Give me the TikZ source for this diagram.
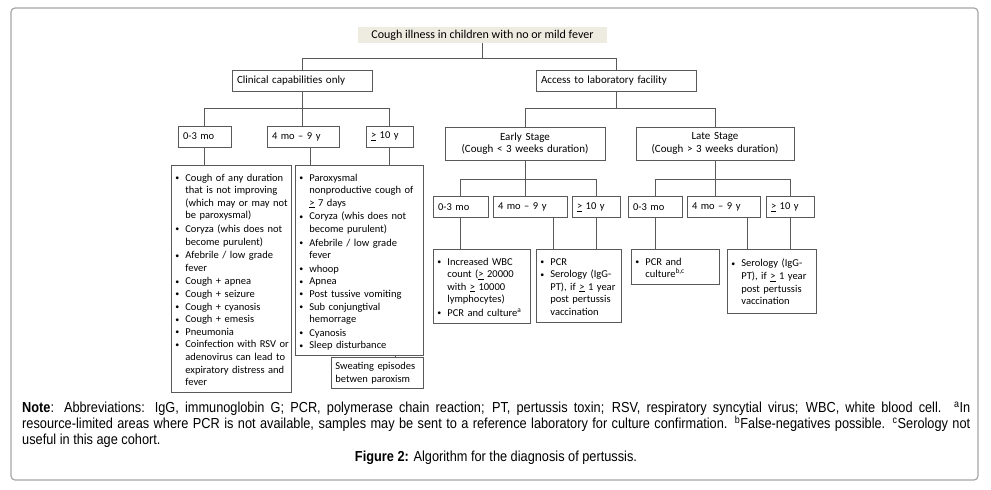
\documentclass[tikz,border=0pt]{standalone}
\usepackage{fontspec}
\setmainfont{Carlito}
\newfontfamily\notefont[FakeStretch=0.88]{Liberation Sans}

\definecolor{titlefill}{RGB}{238,236,225}
\definecolor{linegray}{RGB}{89,89,89}
\definecolor{framegray}{RGB}{165,165,165}

% one bullet item, lines broken by hand
\newcommand{\bul}[1]{\par\noindent\makebox[10pt][l]{\raisebox{0.6pt}{\scalebox{0.75}{\textbullet}}}\begin{tabular}[t]{@{}l@{}}#1\end{tabular}}
% underlined > used as "greater or equal"
\newcommand{\uge}{\underline{>}}

\begin{document}
\begin{tikzpicture}[x=1pt, y=-1pt,
	box/.style={draw=linegray, line width=0.8pt, inner sep=0pt, font=\fontsize{10.5}{12.6}\selectfont},
	agebox/.style={box, minimum height=21pt, inner xsep=5pt, align=left},
	stagebox/.style={box, minimum height=33pt, align=center},
	listbox/.style={box, anchor=north west, inner xsep=4pt, inner ysep=3pt, align=left},
	link/.style={draw=linegray, line width=0.8pt}]

	\useasboundingbox (0,0) rectangle (991,490);
	\draw[framegray, line width=1.2pt, rounded corners=4pt] (11,8) rectangle (978,480);

	\node[fill=titlefill, minimum width=249pt, minimum height=16pt, inner sep=0pt, font=\fontsize{12}{12.6}\selectfont](cough) at (482.5,35){Cough illness in children with no or mild fever};

	\node[agebox, text width=130pt, font=\fontsize{11}{12.6}\selectfont](clinical) at (302,81){Clinical capabilities only};
	\node[agebox, text width=150pt, font=\fontsize{11}{12.6}\selectfont](lab) at (616,81){Access to laboratory facility};

	\node[agebox, text width=43pt](cinfant) at (204.5,136.5){0-3 mo};
	\node[agebox, text width=62pt](cchild) at (303,136.5){4 mo -- 9 y};
	\node[agebox, text width=37pt](cadult) at (389.5,136.5){\uge{} 10 y};

	\node[stagebox, text width=160pt, font=\fontsize{11}{12.6}\selectfont](early) at (525,143.5){Early Stage\\(Cough < 3 weeks duration)};
	\node[stagebox, text width=158pt, font=\fontsize{11}{12.6}\selectfont](late) at (715,143.5){Late Stage\\(Cough > 3 weeks duration)};

	\node[agebox, text width=45pt](einfant) at (460.5,207){0-3 mo};
	\node[agebox, text width=64pt](echild) at (530,207){4 mo -- 9 y};
	\node[agebox, text width=38pt](eadult) at (596,207){\uge{} 10 y};
	\node[agebox, text width=44pt](linfant) at (655,207){0-3 mo};
	\node[agebox, text width=63pt](lchild) at (723.5,207){4 mo -- 9 y};
	\node[agebox, text width=38pt](ladult) at (790,207){\uge{} 10 y};

	\node[listbox, text width=112pt, minimum height=222pt](csymp1) at (171,165){%
		\bul{Cough of any duration\\that is not improving\\(which may or may not\\be paroxysmal)}
		\bul{Coryza (whis does not\\become purulent)}
		\bul{Afebrile / low grade\\fever}
		\bul{Cough + apnea}
		\bul{Cough + seizure}
		\bul{Cough + cyanosis}
		\bul{Cough + emesis}
		\bul{Pneumonia}
		\bul{Coinfection with RSV or\\adenovirus can lead to\\expiratory distress and\\fever}};
	\node[listbox, text width=120pt, minimum height=185pt](csymp2) at (295,165){%
		\bul{Paroxysmal\\nonproductive cough of\\\uge{} 7 days}
		\bul{Coryza (whis does not\\become purulent)}
		\bul{Afebrile / low grade\\fever}
		\bul{whoop}
		\bul{Apnea}
		\bul{Post tussive vomiting}
		\bul{Sub conjungtival\\hemorrage}
		\bul{Cyanosis}
		\bul{Sleep disturbance}};
	\node[listbox, text width=84pt, minimum height=31pt](sweat) at (331,357){Sweating episodes\\betwen paroxism};

	\node[listbox, text width=89pt, minimum height=70pt](etest1) at (433,249){%
		\bul{Increased WBC\\count (\uge{} 20000\\with \uge{} 10000\\lymphocytes)}
		\bul{PCR and culture\textsuperscript{a}}};
	\node[listbox, text width=77pt, minimum height=70pt](etest2) at (536,249){%
		\bul{PCR}
		\bul{Serology (IgG-\\PT), if \uge{} 1 year\\post pertussis\\vaccination}};
	\node[listbox, text width=80pt, minimum height=30pt](ltest1) at (631,249){%
		\bul{PCR and\\culture\textsuperscript{b,c}}};
	\node[listbox, text width=81pt, minimum height=64pt](ltest2) at (727,249){%
		\bul{Serology (IgG-\\PT), if \uge{} 1 year\\post pertussis\\vaccination}};

	\draw[link] (cough.south) -- ++(0,15) -| (clinical.north);
	\draw[link] (cough.south) -- ++(0,15) -| (lab.north);

	\draw[link] (clinical.south) -- ++(0,16) -| (cinfant.north);
	\draw[link] (clinical.south) -- ++(0,16) -| (cadult.north);
	\draw[link] (clinical.south) -- (clinical.south |- cchild.north);
	\draw[link] (lab.south) -- ++(0,16) -| (early.north);
	\draw[link] (lab.south) -- ++(0,16) -| (late.north);

	\draw[link] (early.south) -- ++(0,19) -| (einfant.north);
	\draw[link] (early.south) -- ++(0,19) -| (eadult.north);
	\draw[link] (early.south) -- (early.south |- echild.north);
	\draw[link] (late.south) -- ++(0,19) -| (linfant.north);
	\draw[link] (late.south) -- ++(0,19) -| (ladult.north);
	\draw[link] (late.south) -- (late.south |- lchild.north);

	\draw[link] (cinfant.south) -- (cinfant.south |- csymp1.north);
	\draw[link] ([xshift=7pt]cchild.south) -- ([xshift=7pt]cchild.south |- csymp2.north);
	\draw[link] (cadult.south) -- (cadult.south |- csymp2.north);
	\draw[link] ([xshift=18pt]sweat.north) -- ([xshift=18pt]sweat.north |- csymp2.south);

	\draw[link] (einfant.south) -- (einfant.south |- etest1.north);
	\draw[link] ([xshift=23pt]echild.south) -- ([xshift=23pt]echild.south |- etest2.north);
	\draw[link] (eadult.south) -- (eadult.south |- etest2.north);
	\draw[link] (linfant.south) -- (linfant.south |- ltest1.north);
	\draw[link] ([xshift=23.5pt]lchild.south) -- ([xshift=23.5pt]lchild.south |- ltest2.north);
	\draw[link] (ladult.south) -- (ladult.south |- ltest2.north);

	\node[anchor=north west, inner sep=0pt, text width=948pt, align=justify, font=\notefont\fontsize{14.5}{16}\selectfont](note) at (22,402){%
		\hyphenpenalty=10000 \exhyphenpenalty=10000 {\bfseries Note}: Abbreviations: IgG, immunoglobin G; PCR, polymerase chain reaction; PT, pertussis toxin; RSV, respiratory syncytial virus; WBC, white blood cell. \textsuperscript{a}In\linebreak resource-limited areas where PCR is not available, samples may be sent to a reference laboratory for culture confirmation. \textsuperscript{b}False-negatives possible. \textsuperscript{c}Serology not\linebreak useful in this age cohort.};
	\node[inner sep=0pt, font=\notefont\fontsize{14.5}{16}\selectfont](caption) at (496,458){{\bfseries Figure 2:} Algorithm for the diagnosis of pertussis.};

\end{tikzpicture}
\end{document}
